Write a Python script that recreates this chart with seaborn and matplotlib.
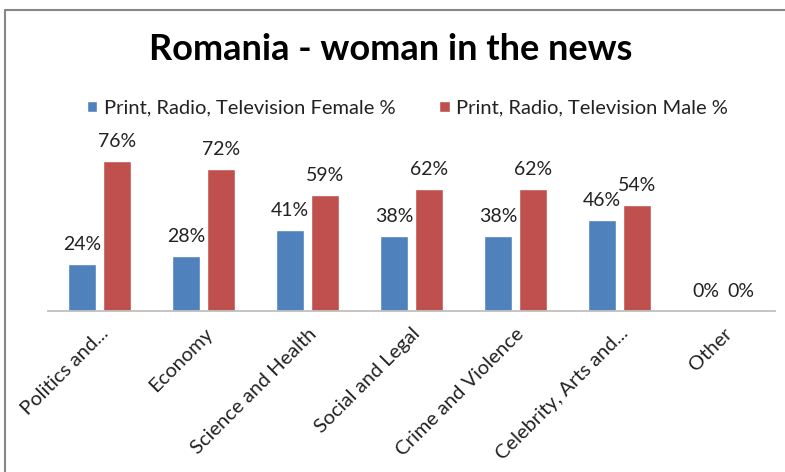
import matplotlib
matplotlib.use("Agg")
import matplotlib.pyplot as plt
from matplotlib.lines import Line2D
import seaborn as sns
import pandas as pd

categories = ["Politics and...", "Economy", "Science and Health", "Social and Legal",
              "Crime and Violence", "Celebrity, Arts and...", "Other"]
female_pct = [24, 28, 41, 38, 38, 46, 0]
male_pct = [76, 72, 59, 62, 62, 54, 0]
series_names = ["Print, Radio, Television Female %", "Print, Radio, Television Male %"]
title = "Romania - woman in the news"

colors = ["#4F81BD", "#C0504D"]

df = pd.DataFrame({
    "category": categories * 2,
    "value": female_pct + male_pct,
    "series": [series_names[0]] * len(categories) + [series_names[1]] * len(categories),
})

sns.set_theme(style="white")
plt.rcParams["font.family"] = ["Lato", "DejaVu Sans"]

W, H = 785, 472
fig = plt.figure(figsize=(W / 100, H / 100), dpi=100)
fig.patch.set_facecolor("white")

# plot area: baseline at y=311px, 100% spans ~197px
left, right = 48, 775
base, top = 311, 114
ax = fig.add_axes([left / W, 1 - base / H, (right - left) / W, (base - top) / H])

sns.barplot(data=df, x="category", y="value", hue="series", order=categories,
            hue_order=series_names, palette=colors, width=0.674, gap=0.2,
            saturation=1, ax=ax, legend=True)

ax.set_ylim(0, 100)
ax.set_xlim(-0.5, len(categories) - 0.5)
ax.set_xlabel("")
ax.set_ylabel("")
ax.set_yticks([])
for side in ["top", "right", "left"]:
    ax.spines[side].set_visible(False)
ax.spines["bottom"].set_color("#BFBFBF")
ax.spines["bottom"].set_linewidth(1.3)
ax.tick_params(axis="x", length=0, pad=10)
ax.set_xticks(range(len(categories)))
ax.set_xticklabels(categories, rotation=45, ha="right", va="top",
                   rotation_mode="anchor", fontsize=14.5, color="#222222")
ax.set_facecolor("white")

for cont in ax.containers:
    ax.bar_label(cont, labels=[f"{v:.0f}%" for v in cont.datavalues],
                 padding=8, fontsize=14, color="#222222")

handles, labels = ax.get_legend_handles_labels()
ax.get_legend().remove()
fig.legend(handles, labels, loc="center", bbox_to_anchor=(0.519, 1 - 108 / H),
           ncol=2, frameon=False, fontsize=14.5, handlelength=0.5, handleheight=0.5,
           handletextpad=0.3, columnspacing=2.2, labelcolor="#222222")

fig.text(0.498, 1 - 49 / H, title, ha="center", va="center", fontsize=26,
         fontweight="bold", color="black")

# chart frame (top and left edges)
fig.add_artist(Line2D([5 / W, 1], [1 - 10 / H, 1 - 10 / H], color="#868686", lw=1.5))
fig.add_artist(Line2D([5 / W, 5 / W], [1 - 10 / H, 0], color="#868686", lw=1.5))

fig.savefig("out.png", dpi=100, facecolor="white")
